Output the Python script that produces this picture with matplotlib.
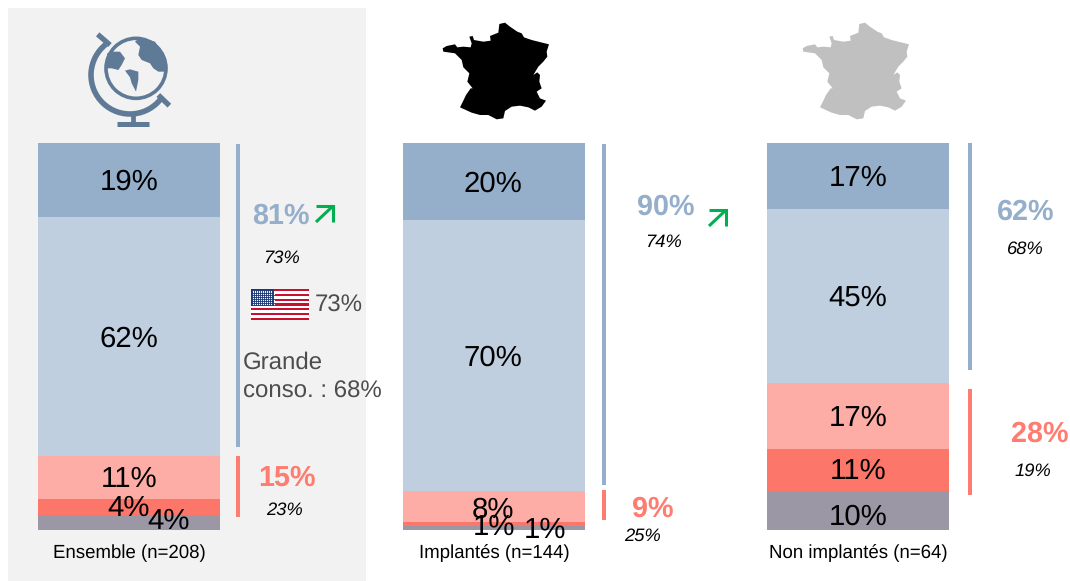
import matplotlib
matplotlib.use("Agg")
import matplotlib.pyplot as plt
from matplotlib.patches import Circle, Polygon, Rectangle, Arc

plt.rcParams["font.family"] = ["Liberation Sans", "DejaVu Sans"]
plt.rcParams["text.hinting"] = "no_hinting"

W, H = 1070, 581

# values, bottom segment first
groups = ["Ensemble (n=208)", "Implantés (n=144)", "Non implantés (n=64)"]
ensemble = [4, 4, 11, 62, 19]
implantes = [1, 1, 8, 70, 20]
non_implantes = [10, 11, 17, 45, 17]
positive_totals = ["81%", "90%", "62%"]
positive_refs = ["73%", "74%", "68%"]
negative_totals = ["15%", "9%", "28%"]
negative_refs = ["23%", "25%", "19%"]

seg_colors = ["#9b97a5", "#fc766a", "#fdaca6", "#bfcfe0", "#95afcb"]
BLUE = "#95afcb"
RED = "#ff7c70"
GREEN = "#00b050"
GREY_TXT = "#4d4d4d"
GLOBE = "#5f7a96"

bar_left = [38, 403, 767]
bar_w = 182
bar_top, bar_bottom = 143, 530

# label centres in pixels, same order as the values (some overlap in the original)
seg_label_pos = [
    [(169, 521), (129, 508), (129, 479), (129, 339), (129, 182)],
    [(545, 530), (494, 527), (493, 510), (493, 358), (493, 184)],
    [(858, 517), (858, 471), (858, 418), (858, 298), (858, 178)],
]

# france outline, traced on the black map (crop coordinates, see p_fr)
france = [(38, 115), (50, 108), (75, 103), (82, 112), (100, 110), (122, 112), (125, 100), (118, 80),
          (128, 78), (132, 90), (160, 95), (182, 92), (180, 78), (205, 68), (208, 42), (225, 38),
          (240, 50), (262, 65), (275, 70), (282, 82), (305, 90), (325, 95), (357, 103), (350, 125),
          (352, 140), (340, 155), (325, 170), (310, 195), (322, 187), (330, 195), (328, 215),
          (335, 235), (320, 245), (330, 265), (348, 272), (335, 290), (315, 302), (295, 292),
          (270, 287), (245, 290), (225, 303), (220, 325), (200, 328), (175, 315), (150, 315),
          (125, 308), (90, 292), (100, 272), (108, 255), (122, 235), (128, 235), (112, 215),
          (118, 190), (100, 172), (95, 150), (75, 130), (40, 125)]


def p_fr(x, y, dx=0):
    return (x / 3 + 430 + dx, y / 3 + 10)


def draw_bars(fig, values, left):
    ax = fig.add_axes([left / W, 1 - bar_bottom / H, bar_w / W, (bar_bottom - bar_top) / H])
    bottom = 0
    for value, color in zip(values, seg_colors):
        ax.bar(0, value, bottom=bottom, width=1, color=color, linewidth=0)
        bottom += value
    ax.set_xlim(-0.5, 0.5)
    ax.set_ylim(0, 100)
    ax.axis("off")
    ax.patch.set_visible(False)


def draw_globe(ax):
    # zoom crop coordinates -> pixels
    def p(x, y):
        return (x / 3 + 30, y / 3)

    ax.add_patch(Circle(p(318, 205), 30, facecolor="none", edgecolor=GLOBE, linewidth=2.6))
    ax.add_patch(Arc(p(300, 225), 78, 78, angle=0, theta1=35, theta2=232, color=GLOBE, linewidth=4))
    ax.plot(*zip(p(203, 103), p(240, 135)), color=GLOBE, linewidth=3.8, solid_capstyle="butt")
    ax.plot(*zip(p(385, 285), p(418, 317)), color=GLOBE, linewidth=3.8, solid_capstyle="butt")
    ax.plot(*zip(p(310, 345), p(310, 375)), color=GLOBE, linewidth=3.4, solid_capstyle="butt")
    ax.plot(*zip(p(262, 373), p(358, 373)), color=GLOBE, linewidth=3.6, solid_capstyle="butt")
    continents = [
        [(315, 125), (330, 112), (375, 125), (408, 180), (408, 215), (385, 215), (370, 205),
         (360, 190), (335, 180), (325, 165), (330, 140)],
        [(232, 160), (250, 155), (270, 155), (285, 175), (275, 195), (265, 210), (245, 205), (225, 205)],
        [(285, 212), (300, 208), (325, 215), (325, 240), (318, 275), (305, 250), (300, 232)],
    ]
    for c in continents:
        ax.add_patch(Polygon([p(x, y) for x, y in c], closed=True, color=GLOBE, linewidth=0))


def draw_flag(ax, x0, y0, w, h):
    for i in range(13):
        color = "#c8102e" if i % 2 == 0 else "white"
        ax.add_patch(Rectangle((x0, y0 + i * h / 13), w, h / 13, facecolor=color, linewidth=0))
    ax.add_patch(Rectangle((x0, y0), w * 0.4, h * 7 / 13, facecolor="#1c3a78", linewidth=0))
    # stars, just small dots at this size
    xs = [x0 + 1.5 + 2.1 * i for i in range(11)]
    ys = [y0 + 1.5 + 1.9 * j for j in range(8)]
    ax.scatter([x for x in xs for y in ys], [y for x in xs for y in ys], s=0.8, color="white", linewidths=0)


def draw_arrow(ax, x0, y0, x1, y1):
    ax.plot([x0, x1], [y0, y1], color=GREEN, linewidth=2.2, solid_capstyle="butt")
    ax.plot([x0, x1, x1], [y1, y1, y0], color=GREEN, linewidth=2.2, solid_joinstyle="miter",
            solid_capstyle="butt")


fig = plt.figure(figsize=(W / 100, H / 100), dpi=100, facecolor="white")
fig.add_artist(Rectangle((8 / W, 0), 358 / W, 1 - 8 / H, transform=fig.transFigure,
                         facecolor="#f2f2f2", linewidth=0, zorder=-1))

all_values = [ensemble, implantes, non_implantes]
for values, left in zip(all_values, bar_left):
    draw_bars(fig, values, left)

# overlay in pixel coordinates for icons, brackets and texts
ov = fig.add_axes([0, 0, 1, 1], zorder=5)
ov.set_xlim(0, W)
ov.set_ylim(H, 0)
ov.axis("off")
ov.patch.set_visible(False)

draw_globe(ov)
ov.add_patch(Polygon([p_fr(x, y) for x, y in france], closed=True, color="black", linewidth=0))
ov.add_patch(Polygon([p_fr(x, y, 360) for x, y in france], closed=True, color="#c0c0c0", linewidth=0))
draw_flag(ov, 251, 289, 58, 31)
draw_arrow(ov, 316, 222, 333, 206)
draw_arrow(ov, 709, 226, 726, 210)

# brackets
for x, y0, y1, color in [(236, 144, 447, BLUE), (236, 456, 517, RED),
                         (602, 144, 485, BLUE), (602, 490, 520, RED),
                         (968, 143, 370, BLUE), (968, 389, 495, RED)]:
    ov.add_patch(Rectangle((x, y0), 4, y1 - y0, facecolor=color, linewidth=0))

for values, positions in zip(all_values, seg_label_pos):
    for value, (x, y) in zip(values, positions):
        ov.text(x, y, f"{value}%", fontsize=21.2, color="black", ha="center", va="center")

for group, x in zip(groups, [129, 494, 858]):
    ov.text(x, 553, group, fontsize=13.4, color="black", ha="center", va="center")

for label, (x, y) in zip(positive_totals, [(281, 216), (666, 207), (1026, 212)]):
    ov.text(x, y, label, fontsize=20.7, fontweight="bold", color=BLUE, ha="center", va="center")
for label, (x, y) in zip(positive_refs, [(281, 258), (663, 242), (1025, 249)]):
    ov.text(x, y, label, fontsize=13.2, style="italic", color="black", ha="center", va="center")
for label, (x, y) in zip(negative_totals, [(287, 478), (653, 509), (1040, 434)]):
    ov.text(x, y, label, fontsize=20.7, fontweight="bold", color=RED, ha="center", va="center")
for label, (x, y) in zip(negative_refs, [(285, 510), (642, 536), (1033, 471)]):
    ov.text(x, y, label, fontsize=13.2, style="italic", color="black", ha="center", va="center")

ov.text(339, 306, "73%", fontsize=17.3, color=GREY_TXT, ha="center", va="center")
ov.text(243, 363, "Grande", fontsize=17.3, color=GREY_TXT, ha="left", va="center")
ov.text(243, 392, "conso. : 68%", fontsize=17.3, color=GREY_TXT, ha="left", va="center")

fig.savefig("out.png", dpi=100)
